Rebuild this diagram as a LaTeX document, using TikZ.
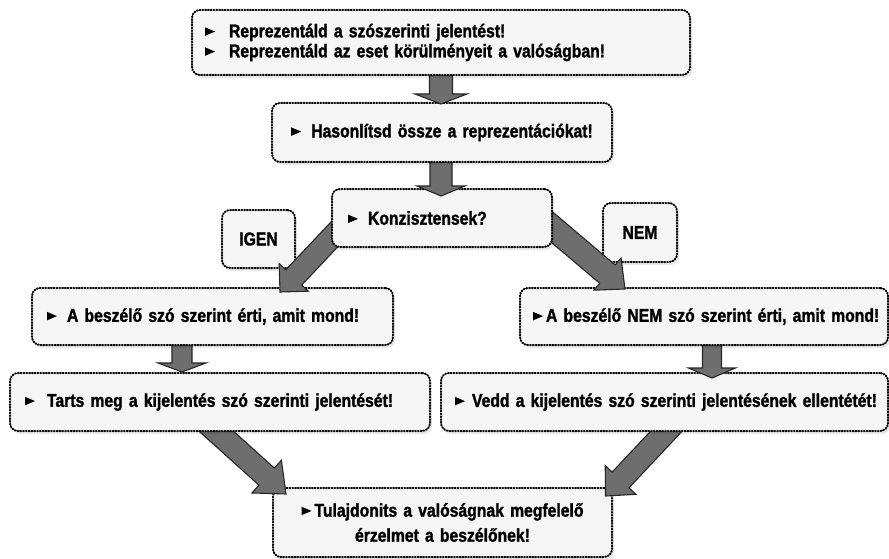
\documentclass[tikz,border=0pt]{standalone}
\usepackage{fontspec}
\setmainfont[FakeStretch=0.85, BoldFeatures={FakeBold=1.5}]{Liberation Sans}
\usetikzlibrary{calc,shadows}
\newcommand\tri{\tikz[x=1pt,y=1pt,baseline=0pt,sharp corners,solid]\fill[black] (0,1.5)--(0,10)--(10,5.75)--cycle;}
\newcommand\blockarr[5]{%
  \coordinate (bah) at ($(#2)!#5!(#1)$);
  \draw[blk] ($(#1)!#3!90:(#2)$) -- ($(bah)!#3!-90:(#1)$) -- ($(bah)!#4!-90:(#1)$) -- (#2)
     -- ($(bah)!#4!90:(#1)$) -- ($(bah)!#3!90:(#1)$) -- ($(#1)!#3!-90:(#2)$) -- cycle;}
\tikzset{
  box/.style={draw=black, line width=2pt, dash pattern=on 0.9pt off 1.9pt, line cap=round,
    rounded corners=8pt, fill=gray!7, text=black, inner ysep=0pt,
    font=\bfseries\fontsize{18.5}{20}\selectfont,
    drop shadow={shadow xshift=2pt, shadow yshift=-3pt, opacity=0.09, fill=black}},
  blk/.style={fill=black!57, draw=black!85, line width=1.1pt, line join=miter}
}
\begin{document}
\begin{tikzpicture}[x=1pt,y=-1pt]
\useasboundingbox[fill=white] (0,0) rectangle (889,559);
% bottom box
\node[box, minimum height=69pt, text width=319pt, inner xsep=10pt, align=center,
  font=\bfseries\fontsize{18.5}{25}\selectfont] (b6) at (442.5,522.5)
  {\mbox{\tri\hspace{3pt}Tulajdonits a valóságnak megfelelő}\\\mbox{érzelmet a beszélőnek!}};
\coordinate (tL) at (204.9,421);
\coordinate (tR) at (674.6,422.4);
\coordinate (pL) at ($(b6.north west)+(14,7)$);
\coordinate (pR) at ($(b6.north east)+(-7.5,9)$);
\blockarr{tL}{pL}{11.5pt}{22pt}{26pt}
\blockarr{tR}{pR}{11.5pt}{21pt}{22pt}
% third row
\node[box, minimum height=58pt, text width=390pt, inner xsep=15pt, align=left] (b5l) at (220,402)
  {\mbox{\tri\hspace{12pt}Tarts meg a kijelentés szó szerinti jelentését!}};
\node[box, minimum height=58pt, text width=419pt, inner xsep=14pt, align=left] (b5r) at (664.5,402)
  {\mbox{\tri\hspace{7pt}Vedd a kijelentés szó szerinti jelentésének ellentétét!}};
\coordinate (sL) at (182,338);
\coordinate (sR) at (712,338);
\blockarr{sL}{sL |- b5l.north}{10pt}{24pt}{9pt}
\blockarr{sR}{$(sR |- b5r.north)+(0,6)$}{9.5pt}{23.5pt}{10pt}
% second row
\node[box, minimum height=57pt, text width=331pt, inner xsep=15pt, align=left] (b4l) at (212.5,316.5)
  {\mbox{\tri\hspace{10pt}A beszélő szó szerint érti, amit mond!}};
\node[box, minimum height=57pt, text width=342pt, inner xsep=13pt, align=left] (b4r) at (704,316.5)
  {\mbox{\tri\hspace{3pt}A beszélő NEM szó szerint érti, amit mond!}};
% labels
\node[box, minimum width=73pt, minimum height=58pt, inner xsep=0pt] (igen) at (258.5,239) {IGEN};
\node[box, minimum width=74pt, minimum height=59pt, inner xsep=0pt] (nem) at (640,232.5) {NEM};
\coordinate (tI) at (344.2,224);
\coordinate (tN) at (542.6,219.2);
\coordinate (pI) at ($(b4l.north)+(67.5,5)$);
\coordinate (pN) at ($(b4r.north)+(-79,2)$);
\blockarr{tI}{pI}{11pt}{20pt}{20pt}
\blockarr{tN}{pN}{12pt}{21pt}{23pt}
% decision
\node[box, minimum height=58pt, text width=188pt, inner xsep=16pt, align=left] (b3) at (442,218)
  {\mbox{\tri\hspace{10pt}Konzisztensek?}};
\coordinate (t2) at (441,155);
\blockarr{t2}{$(t2 |- b3.north)+(0,8)$}{11pt}{24pt}{10pt}
\node[box, minimum height=59pt, text width=320pt, inner xsep=10pt, align=center] (b2) at (442,132.5)
  {\mbox{\tri\hspace{10pt}Hasonlítsd össze a reprezentációkat!}};
\coordinate (t1) at (441,68);
\blockarr{t1}{$(t1 |- b2.north)+(0,2)$}{11.5pt}{26pt}{10pt}
\node[box, minimum height=65pt, text width=472pt, inner xsep=13pt, align=left] (b1) at (441,42.5)
  {\mbox{\tri\hspace{14pt}Reprezentáld a szószerinti jelentést!}\\\mbox{\tri\hspace{14pt}Reprezentáld az eset körülményeit a valóságban!}};
\end{tikzpicture}
\end{document}
